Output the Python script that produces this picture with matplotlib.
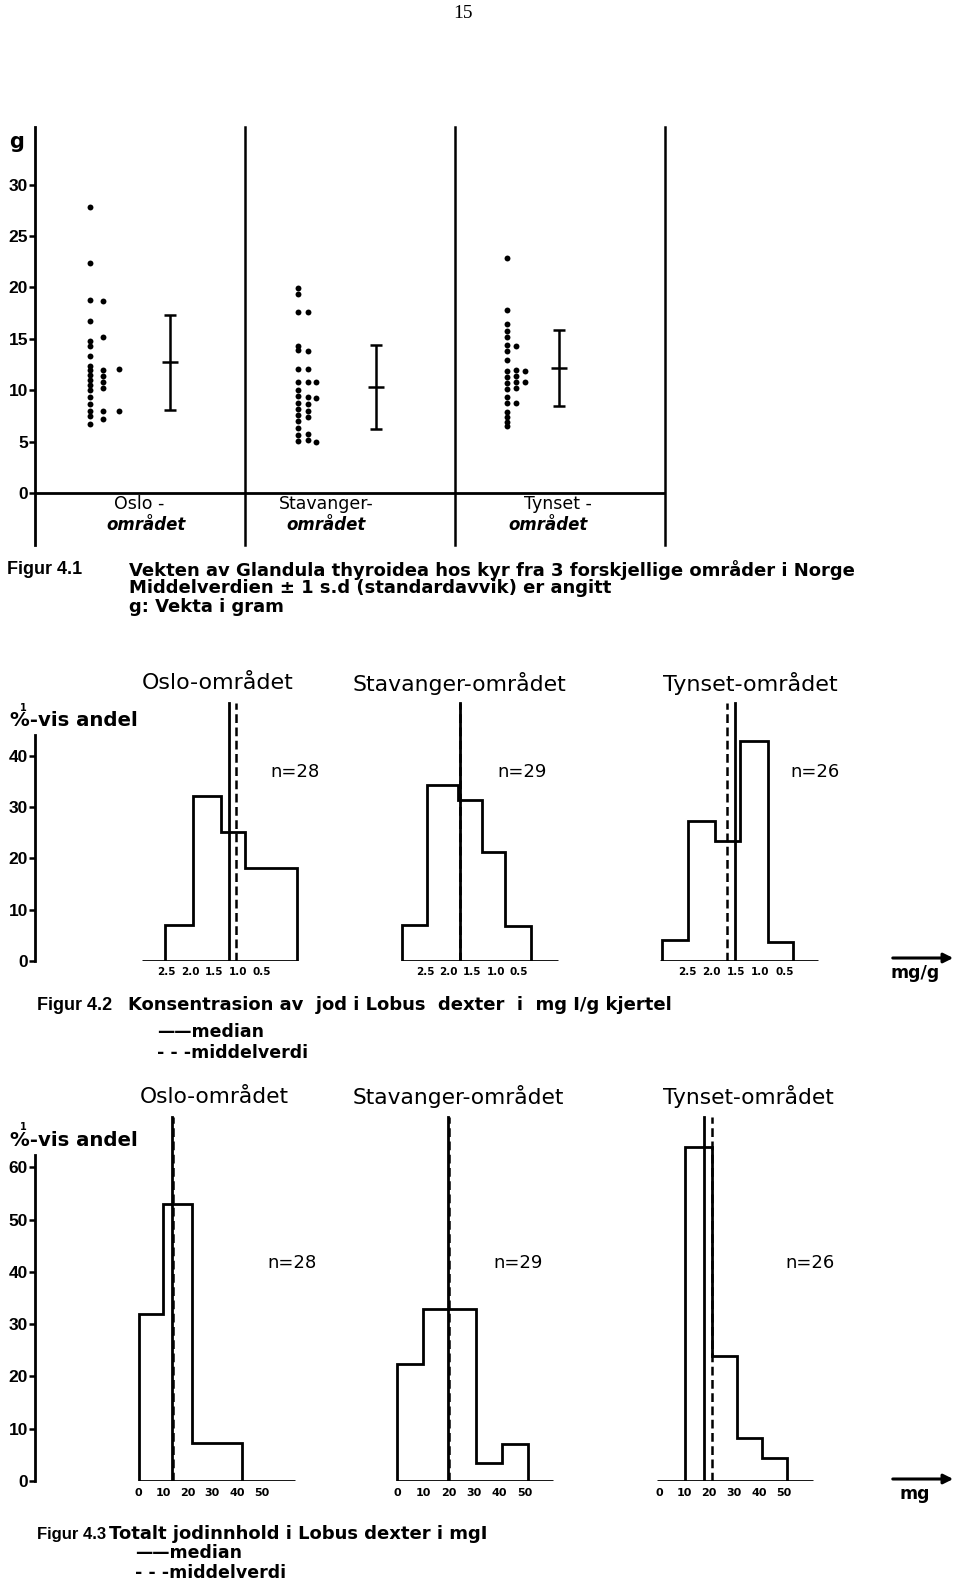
import matplotlib
matplotlib.use('Agg')
import matplotlib.pyplot as plt
from matplotlib.patches import FancyArrowPatch

W, H = 960, 1587
plt.rcParams['font.family'] = ['DejaVu Sans']
plt.rcParams['font.weight'] = 'bold'

# ------------------------------------------------------------------ data
area_top = ['Oslo -', 'Stavanger-', 'Tynset -']
area_bottom = 'området'
area_titles = ['Oslo-området', 'Stavanger-området', 'Tynset-området']
n_vals = [28, 29, 26]

# Fig 4.1 : weight of the thyroid gland (g), dots listed per printed column
oslo_w = [[27.8, 22.4, 18.8, 16.7, 14.8, 14.3, 13.3, 12.4, 12.0, 11.5, 11.0,
           10.5, 10.0, 9.3, 8.7, 8.0, 7.5, 6.7],
          [18.7, 15.2, 12.0, 11.4, 10.8, 10.2, 8.0, 7.2],
          [12.1, 8.0]]
stav_w = [[19.9, 19.4, 17.6, 14.3, 13.9, 12.1, 10.8, 10.0, 9.4, 8.8, 8.2,
           7.6, 7.0, 6.3, 5.6, 5.1],
          [17.6, 13.8, 12.1, 10.8, 9.3, 8.7, 8.0, 7.4, 5.7, 5.2],
          [10.8, 9.2, 5.0]]
tyn_w = [[22.9, 17.8, 16.4, 15.8, 15.2, 14.4, 13.8, 12.9, 11.9, 11.3, 10.7,
          10.1, 9.3, 8.8, 7.9, 7.4, 6.9, 6.5],
         [14.3, 12.0, 11.4, 10.8, 10.2, 8.8],
         [11.9, 10.8]]
w_means = [12.7, 10.3, 12.2]
w_sds = [4.65, 4.1, 3.7]
w_yticks = [0, 5, 10, 15, 20, 25, 30]

# Fig 4.2 : iodine concentration (mg I/g), reversed axis
conc_ticks = [2.5, 2.0, 1.5, 1.0, 0.5]
conc_ticklabels = ['2.5', '2.0', '1.5', '1.0', '0.5']
oslo_conc_edges = [2.52, 1.94, 1.36, 0.86, -0.23]
oslo_conc_pct = [7.0, 32.2, 25.2, 18.1]
stav_conc_edges = [2.99, 2.46, 1.80, 1.29, 0.80, 0.25]
stav_conc_pct = [7.0, 34.3, 31.4, 21.2, 6.9]
tyn_conc_edges = [3.03, 2.49, 1.93, 1.42, 0.84, 0.32]
tyn_conc_pct = [4.0, 27.3, 23.4, 42.9, 3.8]
conc_base = [(3.0, -0.23), (2.99, -0.33), (3.07, -0.19)]
conc_median = [1.19, 1.76, 1.52]
conc_mean = [1.05, 1.75, 1.69]
conc_yticks = [0, 10, 20, 30, 40]

# Fig 4.3 : total iodine content (mg I)
tot_ticks = [0, 10, 20, 30, 40, 50]
oslo_tot_edges = [0, 10, 21.7, 42.1]
oslo_tot_pct = [31.9, 53.0, 7.2]
stav_tot_edges = [0, 10, 30.7, 40.9, 51.1]
stav_tot_pct = [22.4, 32.8, 3.5, 7.1]
tyn_tot_edges = [10.4, 21.2, 31.2, 41.2, 51.2]
tyn_tot_pct = [63.9, 23.9, 8.2, 4.4]
tot_base = [(0, 63.6), (0, 60.8), (-0.8, 61.6)]
tot_median = [13.6, 19.8, 18.0]
tot_mean = [14.0, 20.2, 21.2]
tot_yticks = [0, 10, 20, 30, 40, 50, 60]

# ------------------------------------------------------------------ helpers
fig = plt.figure(figsize=(W / 100, H / 100), dpi=100)
fig.patch.set_facecolor('white')
renderer = fig.canvas.get_renderer()


def add_axes_px(x0, y0, x1, y1):
    return fig.add_axes([x0 / W, 1 - y1 / H, (x1 - x0) / W, (y1 - y0) / H])


def ftext(x, y, s, **kw):
    kw.setdefault('va', 'center')
    kw.setdefault('ha', 'left')
    kw.setdefault('color', 'black')
    return fig.text(x / W, 1 - y / H, s, **kw)


def fit_text(x0, x1, y, s, fs=12, **kw):
    """Place text starting at pixel x0 and scale it so it ends at x1."""
    t = ftext(x0, y, s, fontsize=fs, **kw)
    bb = t.get_window_extent(renderer)
    t.set_fontsize(fs * (x1 - x0) / bb.width)
    return t


def hist_axes(x0, x1, ytop, ybase, pc, vc, kx, ky, reverse):
    ax = add_axes_px(x0, ytop, x1, ybase)
    if reverse:
        f = lambda p: vc - (p - pc) / kx
    else:
        f = lambda p: vc + (p - pc) / kx
    ax.set_xlim(f(x0), f(x1))
    ax.set_ylim(0, (ybase - ytop) / ky)
    for s in ax.spines.values():
        s.set_visible(False)
    ax.set_yticks([])
    ax.patch.set_alpha(0)
    return ax


LW = 2.0
CAP_FS = 13

# ------------------------------------------------------------------ page number
ftext(463, 13, '15', ha='center', fontsize=14, family='Liberation Serif',
      weight='normal')

# ------------------------------------------------------------------ Fig 4.1
ax1 = add_axes_px(35, 127, 665, 544.5)
ax1.set_xlim(-0.5, 2.5)
ax1.set_ylim(-5, 35.6)
for k in ['top', 'right', 'bottom']:
    ax1.spines[k].set_visible(False)
ax1.spines['left'].set_linewidth(LW)
ax1.set_xticks([])
ax1.set_yticks(w_yticks)
ax1.tick_params(axis='y', direction='out', length=4, width=1.8, pad=1,
                labelsize=12.5)
for lab in ax1.get_yticklabels():
    lab.set_family('Liberation Sans')
ax1.axhline(0, color='k', lw=LW)
for xs in [0.5, 1.5, 2.5]:
    ax1.axvline(xs, color='k', lw=1.8, clip_on=False)

col_pos = [[-0.24, -0.175, -0.10], [0.752, 0.80, 0.838], [1.748, 1.79, 1.833]]
err_pos = [0.143, 1.124, 1.995]
for g, cols in enumerate([oslo_w, stav_w, tyn_w]):
    for c, vals in enumerate(cols):
        ax1.scatter([col_pos[g][c]] * len(vals), vals, s=18, color='k',
                    linewidths=0, zorder=3)
    ax1.errorbar([err_pos[g]], [w_means[g]], yerr=[w_sds[g]], fmt='none',
                 ecolor='k', elinewidth=1.8, capsize=4.5, capthick=1.8)
    ax1.plot([err_pos[g]], [w_means[g]], marker='_', ms=11, mew=1.8, color='k')

grp_l1_x = [139, 326, 558]
grp_l2_x = [146, 326, 548]
for g in range(3):
    ftext(grp_l1_x[g], 504, area_top[g], ha='center', fontsize=12.5,
          weight='normal')
    ftext(grp_l2_x[g], 525, area_bottom, ha='center', fontsize=12,
          weight='bold', style='italic')
ftext(17, 142, 'g', ha='center', fontsize=15)

ftext(7, 570, 'Figur 4.1', fontsize=13, family='Liberation Sans')
ftext(129, 570,
      'Vekten av Glandula thyroidea hos kyr fra 3 forskjellige områder i Norge',
      fontsize=CAP_FS)
ftext(129, 588, 'Middelverdien ± 1 s.d (standardavvik) er angitt',
      fontsize=CAP_FS)
ftext(129, 607, 'g: Vekta i gram', fontsize=CAP_FS)


# ------------------------------------------------------------------ hist panels
def panel(specs, ytop, ybase, ky, reverse, ticks, ticklabels, yticks, ytop_axis,
          edges_l, pct_l, base_l, med_l, mean_l, line_top, tick_fs, tick_pad):
    axes = []
    for i, (x0, x1, pc, vc, kx) in enumerate(specs):
        ax = hist_axes(x0, x1, ytop, ybase, pc, vc, kx, ky, reverse)
        e = list(edges_l[i])
        p = list(pct_l[i])
        if reverse:
            e, p = e[::-1], p[::-1]
        ax.stairs(p, e, baseline=0, color='k', lw=LW)
        b0, b1 = base_l[i]
        ax.plot([b0, b1], [0, 0], color='k', lw=LW, solid_capstyle='butt')
        ax.plot([med_l[i]] * 2, [0, line_top], color='k', lw=2.0)
        ax.plot([mean_l[i]] * 2, [0, line_top], color='k', lw=1.8,
                dashes=(3.5, 1.8))
        ax.set_xticks(ticks)
        ax.set_xticklabels(ticklabels)
        ax.tick_params(axis='x', length=0, pad=tick_pad, labelsize=tick_fs)
        axes.append(ax)
    a0 = axes[0]
    a0.spines['left'].set_visible(True)
    a0.spines['left'].set_linewidth(LW)
    a0.spines['left'].set_bounds(0, ytop_axis)
    a0.set_yticks(yticks)
    a0.tick_params(axis='y', direction='out', length=4, width=1.8, pad=1,
                   labelsize=12.5)
    for lab in a0.get_yticklabels():
        lab.set_family('Liberation Sans')
    return axes


mid_specs = [(35, 320, 214.2, 1.5, 48.0), (390, 570, 472.2, 1.5, 47.0),
             (645, 830, 736.0, 1.5, 48.5)]
panel(mid_specs, 690, 961, 5.13, True, conc_ticks, conc_ticklabels,
      conc_yticks, 44.0,
      [oslo_conc_edges, stav_conc_edges, tyn_conc_edges],
      [oslo_conc_pct, stav_conc_pct, tyn_conc_pct],
      conc_base, conc_median, conc_mean, 50.3, 7.5, 4)

bot_specs = [(35, 320, 200.0, 25.0, 2.46), (390, 570, 461.3, 25.0, 2.56),
             (645, 830, 721.5, 25.0, 2.5)]
panel(bot_specs, 1105, 1481, 5.23, False, tot_ticks,
      [str(t) for t in tot_ticks], tot_yticks, 62.3,
      [oslo_tot_edges, stav_tot_edges, tyn_tot_edges],
      [oslo_tot_pct, stav_tot_pct, tyn_tot_pct],
      tot_base, tot_median, tot_mean, 69.6, 8, 5)

# titles / n labels
mid_title_x = [(142, 293), (352, 563), (663, 837)]
bot_title_x = [(140, 288), (353, 563), (663, 833)]
mid_n_x = [295, 522, 815]
bot_n_x = [292, 518, 810]
for i in range(3):
    fit_text(*mid_title_x[i], 683, area_titles[i], weight='normal')
    fit_text(*bot_title_x[i], 1097, area_titles[i], weight='normal')
    ftext(mid_n_x[i], 772, f'n={n_vals[i]}', ha='center', fontsize=13,
          weight='normal')
    ftext(bot_n_x[i], 1263, f'n={n_vals[i]}', ha='center', fontsize=13,
          weight='normal')

for yl in [721, 1140]:
    fit_text(10, 137, yl, '%-vis andel')
    ftext(20, yl - 13, '1', fontsize=7)

# unit arrows
for (ya, yt, s) in [(958, 973, 'mg/g'), (1479, 1494, 'mg')]:
    fig.add_artist(FancyArrowPatch(
        (890 / W, 1 - ya / H), (956 / W, 1 - ya / H), transform=fig.transFigure,
        arrowstyle='-|>', mutation_scale=14, color='k', lw=2.2))
    ftext(915, yt, s, ha='center', fontsize=12.5)

# captions
ftext(37, 1005, 'Figur 4.2', fontsize=13, family='Liberation Sans')
ftext(128, 1005, 'Konsentrasion av  jod i Lobus  dexter  i  mg I/g kjertel',
      fontsize=CAP_FS)
ftext(157, 1032, '——median', fontsize=12.5)
ftext(157, 1053, '- - -middelverdi', fontsize=12.5)

ftext(37, 1534, 'Figur 4.3', fontsize=12, family='Liberation Sans')
ftext(109, 1534, 'Totalt jodinnhold i Lobus dexter i mgI', fontsize=CAP_FS)
ftext(135, 1553, '——median', fontsize=12.5)
ftext(135, 1573, '- - -middelverdi', fontsize=12.5)

fig.savefig('out.png', dpi=100, facecolor='white')
